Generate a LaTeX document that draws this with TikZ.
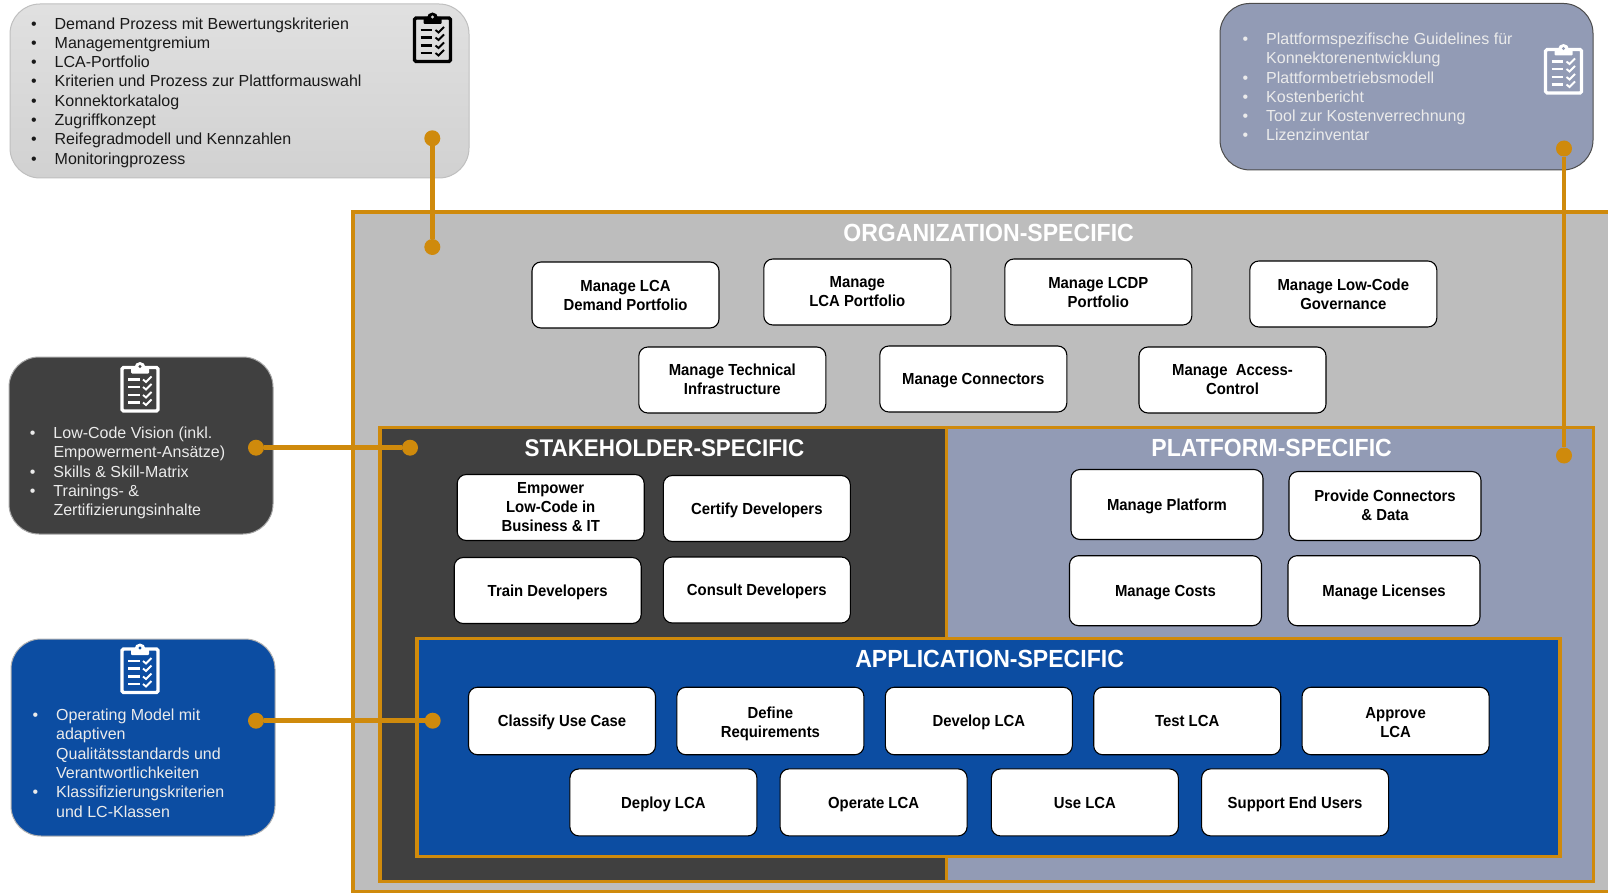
\documentclass[tikz,border=0pt]{standalone}
\usepackage{fontspec}
\usepackage{xcolor}
\setmainfont{Liberation Sans}
\newfontfamily\narrowfont[FakeStretch=0.93]{Liberation Sans}
\definecolor{frame-orange}{HTML}{CF8A0C}
\definecolor{org-gray}{HTML}{BDBDBD}
\definecolor{stake-dark}{HTML}{404040}
\definecolor{plat-blue}{HTML}{929BB5}
\definecolor{app-blue}{HTML}{0C4DA2}
\usetikzlibrary{positioning}
% bullet hanging left of the text line
\newcommand{\bul}{\leavevmode\llap{\textbullet\hspace{18pt}}}
% invisible rules to move box text down or up
\newcommand{\lowrule}{\rule{0pt}{16.5pt}}
\newcommand{\highrule}{\rule[-2.5pt]{0pt}{2.5pt}}
% x, y, icon colour, hole colour
\newcommand{\clipboard}[4]{
  \begin{scope}[shift={(#1, #2)}]
    \draw [#3, line width = 3.2, rounded corners = 1.5] (-18, -20) rectangle (18, 23.5);
    \fill [#3, rounded corners = 1] (-9, -21) rectangle (9, -14);
    \fill [#3] (0, -20) circle (5.5);
    \fill [#4] (0, -21) circle (1.7);
    \foreach \y in {-8, -0.5, 7.5, 15} {
      \draw [#3, line width = 2.5] (-12, \y) -- (-0.5, \y);
      \draw [#3, line width = 1.9] (3, \y) -- (6, \y + 2.5) -- (11.5, \y - 3);
    }
  \end{scope}
}

\begin{document}
\begin{tikzpicture}[x = 1pt, y = -1pt, node distance = 20.3pt]
  \tikzstyle{task}=[rounded corners = 9, draw = black, line width = 1.1, fill = white, inner sep = 0, minimum width = 187, minimum height = 66, align = center, font = \narrowfont\bfseries\fontsize{16}{19}\selectfont]
  \tikzstyle{one-line}=[task, text height = 11.5, text depth = 0]
  \tikzstyle{region}=[draw = frame-orange, line width = 3.8]
  \tikzstyle{region-title}=[text = white, font = \narrowfont\bfseries\fontsize{24.8}{29}\selectfont]
  \tikzstyle{info-box}=[rounded corners = 30, inner sep = 0, line width = 1]
  \tikzstyle{info-text}=[anchor = west, inner sep = 0, align = left, font = \fontsize{16}{19.3}\selectfont]
  \tikzstyle{link-dot}=[circle, fill = frame-orange, inner sep = 0, minimum size = 16]
  \tikzstyle{link}=[frame-orange, line width = 4.6]

  \clip (0, 0) rectangle (1608, 893);

  % nested areas
  \draw [region, fill = org-gray] (352.7, 212) rectangle (1640, 892);
  \draw [region, fill = stake-dark] (380.3, 427.5) rectangle (946.5, 881.5);
  \draw [region, fill = plat-blue] (946.5, 427.5) rectangle (1593.5, 881.5);
  \draw [region, fill = app-blue] (416.7, 638.5) rectangle (1560, 856.5);

  \node [region-title] (T-org) at (988.6, 232.8) {ORGANIZATION-SPECIFIC};
  \node [region-title, font = \narrowfont\bfseries\fontsize{24.1}{29}\selectfont] (T-stake) at (664.5, 448) {STAKEHOLDER-SPECIFIC};
  \node [region-title] (T-plat) at (1271.6, 448) {PLATFORM-SPECIFIC};
  \node [region-title] (T-app) at (989.6, 659.4) {APPLICATION-SPECIFIC};

  % info boxes outside
  \node [info-box, draw = black!25, top color = black!12, bottom color = black!18, minimum width = 459, minimum height = 174] (B-org) at (239.5, 91) {};
  \node [info-box, draw = black!70, fill = plat-blue, minimum width = 373, minimum height = 166.5] (B-plat) at (1406.5, 86.7) {};
  \node [info-box, draw = black!35, fill = stake-dark, minimum width = 264, minimum height = 177] (B-stake) at (141, 445.5) {};
  \node [info-box, draw = black!30, fill = app-blue, minimum width = 264, minimum height = 197] (B-app) at (143, 737.5) {};

  \node [info-text, text = black!90] (L-org) at (54.5, 92.5) {\bul Demand Prozess mit Bewertungskriterien \\ \bul Managementgremium \\ \bul LCA-Portfolio \\ \bul Kriterien und Prozess zur Plattformauswahl \\ \bul Konnektorkatalog \\ \bul Zugriffkonzept \\ \bul Reifegradmodell und Kennzahlen \\ \bul Monitoringprozess};
  \node [info-text, text = white!92!black] (L-plat) at (1266, 87) {\bul Plattformspezifische Guidelines für \\ Konnektorenentwicklung \\ \bul Plattformbetriebsmodell \\ \bul Kostenbericht \\ \bul Tool zur Kostenverrechnung \\ \bul Lizenzinventar};
  \node [info-text, text = white!92!black] (L-stake) at (53.3, 473) {\bul Low-Code Vision (inkl. \\ Empowerment-Ansätze) \\ \bul Skills \& Skill-Matrix \\ \bul Trainings- \& \\ Zertifizierungsinhalte};
  \node [info-text, text = white!92!black] (L-app) at (56, 763.2) {\bul Operating Model mit \\ adaptiven \\ Qualitätsstandards und \\ Verantwortlichkeiten \\ \bul Klassifizierungskriterien \\ und LC-Klassen};

  \clipboard{432.5}{38}{black}{black!15}
  \clipboard{1563.5}{69.5}{white}{plat-blue}
  \clipboard{140}{387.5}{white}{stake-dark}
  \clipboard{140}{669}{white}{app-blue}

  % organization
  \node [task] (D-port) at (625.5, 295) {Manage LCA \\ Demand Portfolio};
  \node [task] (L-port) at (857.3, 292) {Manage \\ LCA Portfolio};
  \node [task] (M-lcdp) at (1098.3, 292) {Manage LCDP \\ Portfolio};
  \node [task] (M-gov) at (1343.3, 294) {Manage Low-Code \\ Governance};
  \node [task] (M-infra) at (732.3, 380) {Manage Technical \\ Infrastructure\highrule};
  \node [one-line] (M-conn) at (973.3, 379) {Manage Connectors};
  \node [task] (M-access) at (1232.5, 380) {Manage\ \ Access- \\ Control};

  % stakeholder
  \node [task] (S-emp) at (550.7, 507.5) {Empower \\ Low-Code in \\ Business \& IT};
  \node [one-line] (S-cert) at (756.8, 508.5) {Certify Developers};
  \node [one-line] (S-train) at (547.7, 590.5) {Train Developers};
  \node [one-line] (S-cons) at (756.8, 590) {Consult Developers};

  % platform
  \node [one-line, minimum width = 192, minimum height = 70] (P-plat) at (1167, 504.5) {Manage Platform};
  \node [task, minimum width = 192, minimum height = 69] (P-prov) at (1385, 506) {Provide Connectors \\ \& Data\highrule};
  \node [one-line, minimum width = 192, minimum height = 70] (P-cost) at (1165.5, 590.7) {Manage Costs};
  \node [one-line, minimum width = 192, minimum height = 70] (P-lic) at (1384, 590.7) {Manage Licenses};

  % application
  \node [one-line, minimum height = 67.5] (A-class) at (562, 721) {Classify Use Case};
  \node [task, minimum height = 67.5, right = of A-class] (A-req) {\lowrule Define \\ Requirements};
  \node [one-line, minimum height = 67.5, right = of A-req] (A-dev) {Develop LCA};
  \node [one-line, minimum height = 67.5, right = of A-dev] (A-test) {Test LCA};
  \node [task, minimum height = 67.5, right = of A-test] (A-appr) {\lowrule Approve \\ LCA\highrule};
  \node [one-line, minimum height = 67] (A-depl) at (663.4, 802.4) {Deploy LCA};
  \node [one-line, minimum height = 67, right = 22.1 of A-depl] (A-oper) {Operate LCA};
  \node [one-line, minimum height = 67, right = 23.2 of A-oper] (A-use) {Use LCA};
  \node [one-line, minimum height = 67, right = 22.1 of A-use] (A-supp) {Support End Users};

  % connectors from the info boxes to the areas
  \node [link-dot] (D1) at (432.3, 138.3) {};
  \node [link-dot] (D2) at (432.3, 247) {};
  \node [link-dot] (D3) at (1564, 148.5) {};
  \node [link-dot] (D4) at (1564, 455.5) {};
  \node [link-dot] (D5) at (256, 447.7) {};
  \node [link-dot] (D6) at (410, 447.7) {};
  \node [link-dot] (D7) at (256, 720.7) {};
  \node [link-dot] (D8) at (432.7, 720.7) {};

  \draw [link] (D1) -- (D2);
  \draw [link] (D3) -- (D4);
  \draw [link] (D5) -- (D6);
  \draw [link] (D7) -- (D8);
\end{tikzpicture}
\end{document}
